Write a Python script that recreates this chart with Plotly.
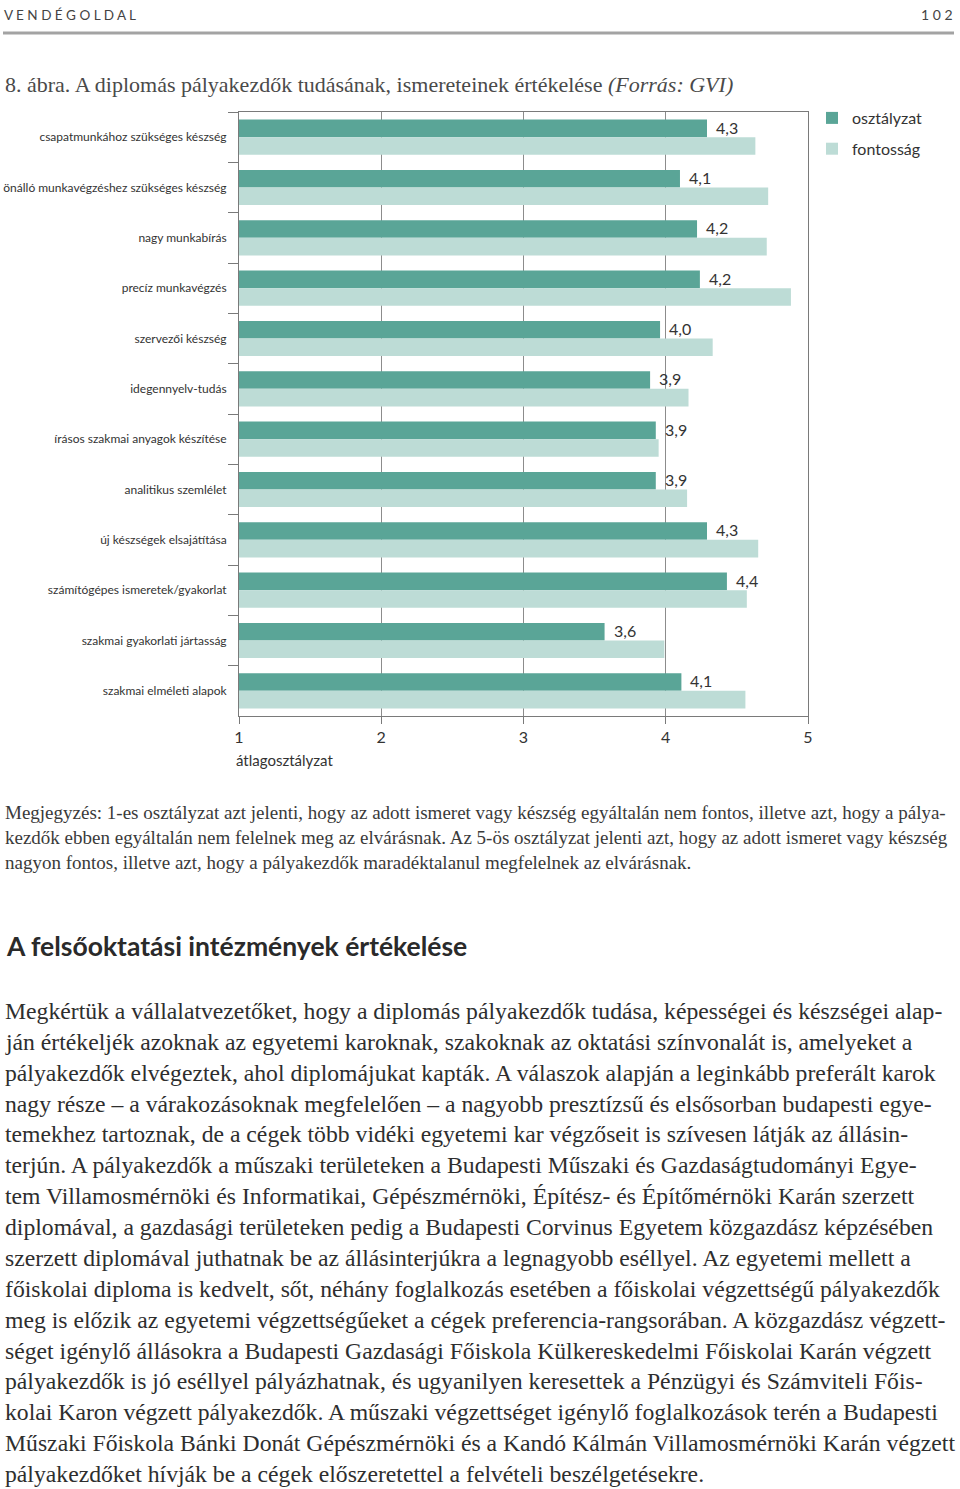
import plotly.graph_objects as go

categories = [
    "csapatmunkához szükséges készség",
    "önálló munkavégzéshez szükséges készség",
    "nagy munkabírás",
    "precíz munkavégzés",
    "szervezői készség",
    "idegennyelv-tudás",
    "írásos szakmai anyagok készítése",
    "analitikus szemlélet",
    "új készségek elsajátítása",
    "számítógépes ismeretek/gyakorlat",
    "szakmai gyakorlati jártasság",
    "szakmai elméleti alapok",
]
osztalyzat = [4.29, 4.10, 4.22, 4.24, 3.96, 3.89, 3.93, 3.93, 4.29, 4.43, 3.57, 4.11]
fontossag = [4.63, 4.72, 4.71, 4.88, 4.33, 4.16, 3.95, 4.15, 4.65, 4.57, 3.99, 4.56]
x_ticks = [1, 2, 3, 4, 5]
series_names = ["osztályzat", "fontosság"]

note_lines = [
    "Megjegyzés: 1-es osztályzat azt jelenti, hogy az adott ismeret vagy készség egyáltalán nem fontos, illetve azt, hogy a pálya-",
    "kezdők ebben egyáltalán nem felelnek meg az elvárásnak. Az 5-ös osztályzat jelenti azt, hogy az adott ismeret vagy készség",
    "nagyon fontos, illetve azt, hogy a pályakezdők maradéktalanul megfelelnek az elvárásnak.",
]
body_lines = [
    "Megkértük a vállalatvezetőket, hogy a diplomás pályakezdők tudása, képességei és készségei alap-",
    "ján értékeljék azoknak az egyetemi karoknak, szakoknak az oktatási színvonalát is, amelyeket a",
    "pályakezdők elvégeztek, ahol diplomájukat kapták. A válaszok alapján a leginkább preferált karok",
    "nagy része – a várakozásoknak megfelelően – a nagyobb presztízsű és elsősorban budapesti egye-",
    "temekhez tartoznak, de a cégek több vidéki egyetemi kar végzőseit is szívesen látják az állásin-",
    "terjún. A pályakezdők a műszaki területeken a Budapesti Műszaki és Gazdaságtudományi Egye-",
    "tem Villamosmérnöki és Informatikai, Gépészmérnöki, Építész- és Építőmérnöki Karán szerzett",
    "diplomával, a gazdasági területeken pedig a Budapesti Corvinus Egyetem közgazdász képzésében",
    "szerzett diplomával juthatnak be az állásinterjúkra a legnagyobb eséllyel. Az egyetemi mellett a",
    "főiskolai diploma is kedvelt, sőt, néhány foglalkozás esetében a főiskolai végzettségű pályakezdők",
    "meg is előzik az egyetemi végzettségűeket a cégek preferencia-rangsorában. A közgazdász végzett-",
    "séget igénylő állásokra a Budapesti Gazdasági Főiskola Külkereskedelmi Főiskolai Karán végzett",
    "pályakezdők is jó eséllyel pályázhatnak, és ugyanilyen keresettek a Pénzügyi és Számviteli Főis-",
    "kolai Karon végzett pályakezdők. A műszaki végzettséget igénylő foglalkozások terén a Budapesti",
    "Műszaki Főiskola Bánki Donát Gépészmérnöki és a Kandó Kálmán Villamosmérnöki Karán végzett",
    "pályakezdőket hívják be a cégek előszeretettel a felvételi beszélgetésekre.",
]

W_FIG, H_FIG = 960, 1489
# plot-area edges in page pixels
L, R, T, B = 239, 808, 112, 716
COND = "Lato, Roboto, sans-serif"
SERIF = "Liberation Serif, DejaVu Serif, serif"
DARK = "#5aa597"
LIGHT = "#bddcd6"
TXT = "#333333"


def cfont(size, color=TXT):
    return dict(family=COND, size=size, color=color)


def px(x):
    return (x - L) / (R - L)


def py(y):
    return (B - y) / (B - T)


fig = go.Figure()
fig.add_trace(go.Bar(y=categories, x=[v - 1 for v in osztalyzat], base=1, orientation="h",
                     name=series_names[0], legendgroup="a", customdata=osztalyzat,
                     hovertemplate="%{y}: %{customdata}<extra></extra>",
                     marker=dict(color=DARK, line=dict(width=0))))
fig.add_trace(go.Bar(y=categories, x=[v - 1 for v in fontossag], base=1, orientation="h",
                     name=series_names[1], legendgroup="b", customdata=fontossag,
                     hovertemplate="%{y}: %{customdata}<extra></extra>",
                     marker=dict(color=LIGHT, line=dict(width=0))))

annotations = []
for cat, v in zip(categories, osztalyzat):
    annotations.append(dict(x=v, y=cat, xref="x", yref="y", text=f"{v:.1f}".replace(".", ","),
                            showarrow=False, xanchor="left", yanchor="middle", xshift=7, yshift=10,
                            font=cfont(16)))

annotations.append(dict(x=1, y=py(760), xref="x", yref="paper", text="átlagosztályzat", showarrow=False,
                        xanchor="left", yanchor="middle", xshift=-5, font=cfont(15)))

# page header
annotations.append(dict(x=px(2), y=py(15), xref="paper", yref="paper", text="V E N D É G O L D A L",
                        showarrow=False, xanchor="left", yanchor="middle", font=cfont(13.5, "#444444")))
annotations.append(dict(x=px(955), y=py(15), xref="paper", yref="paper", text="1 0 2",
                        showarrow=False, xanchor="right", yanchor="middle", font=cfont(14, "#444444")))
# figure title
annotations.append(dict(x=px(3), y=py(84), xref="paper", yref="paper",
                        text="8. ábra. A diplomás pályakezdők tudásának, ismereteinek értékelése <i>(Forrás: GVI)</i>",
                        showarrow=False, xanchor="left", yanchor="middle",
                        font=dict(family=SERIF, size=22, color="#4a4a4a")))
# note
for i, line in enumerate(note_lines):
    annotations.append(dict(x=px(3), y=py(812 + 25 * i), xref="paper", yref="paper", text=line,
                            showarrow=False, xanchor="left", yanchor="middle",
                            font=dict(family=SERIF, size=19, color="#3a3a3a")))
# heading
annotations.append(dict(x=px(4), y=py(946), xref="paper", yref="paper",
                        text="<b>A felsőoktatási intézmények értékelése</b>",
                        showarrow=False, xanchor="left", yanchor="middle", font=cfont(26.5, "#2a2a2a")))
# body
for i, line in enumerate(body_lines):
    annotations.append(dict(x=px(3), y=py(1011 + 30.87 * i), xref="paper", yref="paper", text=line,
                            showarrow=False, xanchor="left", yanchor="middle",
                            font=dict(family=SERIF, size=23.7, color="#2e2e2e")))

shapes = [dict(type="line", xref="paper", yref="paper", x0=px(3), x1=px(954), y0=py(33), y1=py(33),
               line=dict(color="#a3a3a3", width=3))]

fig.update_layout(
    width=W_FIG, height=H_FIG,
    margin=dict(l=L, r=W_FIG - R, t=T, b=H_FIG - B, autoexpand=False),
    paper_bgcolor="white", plot_bgcolor="white",
    barmode="group", bargap=0.30, bargroupgap=0,
    showlegend=True,
    legend=dict(x=px(812), y=py(101), xanchor="left", yanchor="top", traceorder="grouped",
                font=cfont(16), bgcolor="rgba(0,0,0,0)", tracegroupgap=7),
    annotations=annotations,
    shapes=shapes,
    font=dict(family=COND, color=TXT),
)
fig.update_xaxes(range=[1, 5], tickvals=x_ticks, ticktext=[str(t) for t in x_ticks],
                 showgrid=True, gridcolor="#8c8c8c", gridwidth=1,
                 showline=True, linecolor="#7a7a7a", linewidth=1, mirror=True,
                 ticks="outside", ticklen=7, tickcolor="#7a7a7a", automargin=False,
                 tickfont=cfont(16), zeroline=False)
fig.update_yaxes(categoryorder="array", categoryarray=categories, autorange="reversed",
                 showline=True, linecolor="#7a7a7a", linewidth=1, mirror=True,
                 ticks="outside", ticklen=10, tickcolor="#7a7a7a", tickson="boundaries",
                 ticklabelstandoff=9, automargin=False,
                 tickfont=cfont(12), showgrid=False)

fig.write_html("out.html", config={"displayModeBar": False},
               post_script="document.body.style.margin='0';")
